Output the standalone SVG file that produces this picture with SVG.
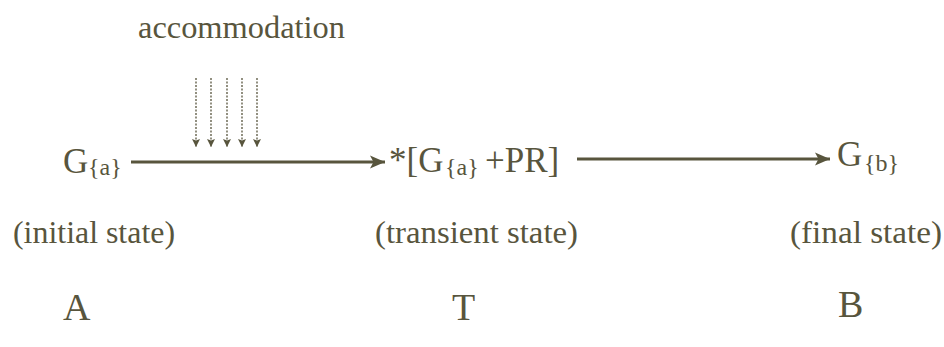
<svg xmlns="http://www.w3.org/2000/svg" width="944" height="347" viewBox="0 0 944 347">
  <style>
    text { font-family: "Liberation Serif", "Times New Roman", serif; fill: #58553d; }
    .main { font-size: 35px; }
    .sub { font-size: 24px; }
    .lbl { font-size: 32px; }
    .big { font-size: 38px; }
    .conn { stroke: #58553d; stroke-width: 3; fill: none; }
    .dot { stroke: #58553d; stroke-width: 1.3; stroke-dasharray: 2 1.5; fill: none; }
  </style>
  <defs>
    <marker id="ah" markerUnits="userSpaceOnUse" markerWidth="18" markerHeight="16" refX="15" refY="7" orient="auto">
      <path d="M0,0.5 L15,7 L0,13.5 L3.5,7 Z" fill="#58553d"/>
    </marker>
    <marker id="dh" markerUnits="userSpaceOnUse" markerWidth="10" markerHeight="10" refX="8" refY="4" orient="auto">
      <path d="M0,0 L8,4 L0,8 L1.5,4 Z" fill="#58553d"/>
    </marker>
  </defs>

  <g id="accommodation">
    <text class="lbl" x="138" y="38" textLength="207" lengthAdjust="spacingAndGlyphs">accommodation</text>
  </g>

  <g id="connectors">
    <line class="conn" x1="131" y1="162" x2="385" y2="162" marker-end="url(#ah)"/>
    <line class="conn" x1="577" y1="159" x2="830" y2="159" marker-end="url(#ah)"/>
    <line class="dot" x1="196" y1="78" x2="196" y2="147" marker-end="url(#dh)"/>
    <line class="dot" x1="211" y1="78" x2="211" y2="147" marker-end="url(#dh)"/>
    <line class="dot" x1="227" y1="78" x2="227" y2="147" marker-end="url(#dh)"/>
    <line class="dot" x1="242" y1="78" x2="242" y2="147" marker-end="url(#dh)"/>
    <line class="dot" x1="257" y1="78" x2="257" y2="147" marker-end="url(#dh)"/>
  </g>

  <g id="nodeA">
    <text class="main" x="63" y="173">G</text>
    <text class="sub" x="88" y="175">{a}</text>
    <text class="lbl" x="13" y="243" textLength="162" lengthAdjust="spacingAndGlyphs">(initial state)</text>
    <text class="big" x="63" y="320">A</text>
  </g>

  <g id="nodeT">
    <text class="main" x="389" y="172">*[G</text>
    <text class="sub" x="445" y="175">{a}</text>
    <text class="main" x="485" y="172">+PR]</text>
    <text class="lbl" x="375" y="243" textLength="203" lengthAdjust="spacingAndGlyphs">(transient state)</text>
    <text class="big" x="452" y="320">T</text>
  </g>

  <g id="nodeB">
    <text class="main" x="837" y="166">G</text>
    <text class="sub" x="864" y="171">{b}</text>
    <text class="lbl" x="790" y="243" textLength="152" lengthAdjust="spacingAndGlyphs">(final state)</text>
    <text class="big" x="838" y="317">B</text>
  </g>
</svg>
